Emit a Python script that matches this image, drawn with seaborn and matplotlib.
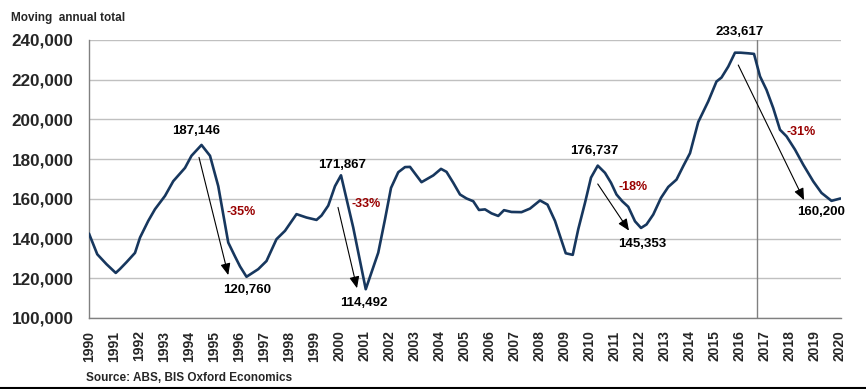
import matplotlib
matplotlib.use("Agg")
import matplotlib.pyplot as plt
from matplotlib.lines import Line2D
import seaborn as sns
import pandas as pd

# ---- data ----
years = [1990.0, 1990.33, 1990.7, 1991.07, 1991.24, 1991.5, 1991.84, 1992.04, 1992.37, 1992.64,
         1993.04, 1993.37, 1993.84, 1994.1, 1994.5, 1994.84, 1995.17, 1995.57, 1995.84, 1996.04,
         1996.3, 1996.77, 1997.1, 1997.5, 1997.84, 1998.3, 1998.7, 1999.1, 1999.3, 1999.57,
         1999.84, 2000.08, 2000.57, 2001.07, 2001.57, 2001.84, 2002.08, 2002.37, 2002.64, 2002.84,
         2003.3, 2003.77, 2004.08, 2004.3, 2004.57, 2004.84, 2005.1, 2005.37, 2005.6, 2005.84,
         2006.1, 2006.37, 2006.6, 2006.9, 2007.3, 2007.64, 2008.04, 2008.34, 2008.64, 2008.84,
         2009.07, 2009.35, 2009.57, 2009.84, 2010.08, 2010.35, 2010.64, 2010.88, 2011.1, 2011.33,
         2011.57, 2011.84, 2012.08, 2012.3, 2012.57, 2012.88, 2013.17, 2013.5, 2013.77, 2014.04,
         2014.37, 2014.77, 2015.1, 2015.3, 2015.57, 2015.84, 2016.07, 2016.37, 2016.6, 2016.84,
         2017.1, 2017.37, 2017.64, 2017.9, 2018.24, 2018.57, 2018.97, 2019.3, 2019.7, 2020.06]
totals = [142500, 132100, 127100, 122700, 124700, 128100, 132800, 140500, 148900, 154800,
          161500, 168900, 175600, 181700, 187146, 181700, 166400, 138000, 131000, 126000,
          120760, 124600, 128700, 139700, 143900, 152300, 150600, 149400, 151600, 156600,
          166400, 171867, 145500, 114492, 132900, 149700, 165500, 173400, 176000, 176100,
          168400, 171800, 175100, 173600, 168100, 162200, 160200, 158800, 154400, 154700,
          152700, 151400, 154300, 153400, 153300, 155100, 159200, 157100, 148900, 141300,
          132600, 131800, 144700, 158000, 170700, 176737, 173100, 168100, 162200, 158800,
          156000, 148700, 145353, 147100, 152100, 160500, 166000, 169700, 176500, 183000,
          198700, 209100, 219100, 221100, 226600, 233617, 233600, 233300, 233000, 221700,
          214900, 205700, 194800, 191500, 184800, 177200, 168800, 163000, 159000, 160200]

tick_years = list(range(1990, 2021))
y_ticks = [100000, 120000, 140000, 160000, 180000, 200000, 220000, 240000]

value_labels = ["187,146", "120,760", "171,867", "114,492", "176,737", "145,353", "233,617", "160,200"]
value_label_pos = [(1994.27, 194200), (1996.33, 114100), (2000.12, 177050), (2000.98, 107550),
                   (2010.2, 184100), (2012.14, 137300), (2016.01, 243900), (2019.29, 153500)]
pct_labels = ["-35%", "-33%", "-18%", "-31%"]
pct_label_pos = [(1996.1, 153400), (2001.1, 157400), (2011.77, 166100), (2018.5, 193700)]
arrow_starts = [(1994.4, 180900), (1999.96, 155700), (2010.35, 167500), (2015.97, 227400)]
arrow_ends = [(1995.57, 121600), (2000.72, 115000), (2011.6, 144000), (2018.6, 159400)]
marker_year = 2016.72

df = pd.DataFrame({"year": years, "total": totals})

# ---- styling ----
sns.set_style("white")
plt.rcParams["font.family"] = ["Liberation Sans", "DejaVu Sans"]
plt.rcParams["font.weight"] = "bold"

fig = plt.figure(figsize=(8.66, 3.89), dpi=100)
ax = fig.add_axes([89 / 866, 1 - 318 / 389, (841 - 89) / 866, (318 - 40) / 389])

ax.set_ylim(100000, 240000)
ax.set_xlim(1990, 2020.08)
ax.set_yticks(y_ticks)
ax.yaxis.grid(True, color="#C0C0C0", linewidth=1.0)
ax.xaxis.grid(False)
ax.set_axisbelow(True)

sns.lineplot(data=df, x="year", y="total", ax=ax, color="#17375E", linewidth=1.9,
             estimator=None, sort=False, zorder=3)

ax.axvline(marker_year, color="#808080", linewidth=1.0, zorder=2)

ax.set_xticks(tick_years)
ax.set_xticklabels([str(y) for y in tick_years], rotation=90, fontsize=10, fontweight="bold")
ax.set_yticklabels([f"{v:,}" for v in y_ticks], fontsize=12.3, fontweight="bold")
ax.tick_params(axis="x", direction="out", length=4, width=1, color="#808080", pad=5)
ax.tick_params(axis="y", direction="out", length=4, width=1, color="#808080", pad=7)
ax.set_xlabel("")
ax.set_ylabel("")

for side in ["top", "right"]:
    ax.spines[side].set_visible(False)
for side in ["left", "bottom"]:
    ax.spines[side].set_color("#808080")
    ax.spines[side].set_linewidth(1.0)

for txt, (x, y) in zip(value_labels, value_label_pos):
    ax.text(x, y, txt, ha="center", va="center", fontsize=9.5, fontweight="bold",
            color="black", zorder=5)
for txt, (x, y) in zip(pct_labels, pct_label_pos):
    ax.text(x, y, txt, ha="center", va="center", fontsize=9, fontweight="bold",
            color="#990000", zorder=5)
for (x0, y0), (x1, y1) in zip(arrow_starts, arrow_ends):
    ax.annotate("", xy=(x1, y1), xytext=(x0, y0),
                arrowprops=dict(arrowstyle="-|>,head_length=0.7,head_width=0.3",
                                color="black", linewidth=0.8, shrinkA=0, shrinkB=0),
                zorder=4)

fig.text(11 / 866, 1 - 18 / 389, "Moving  annual total", ha="left", va="center",
         fontsize=8.5, fontweight="bold")
fig.text(86 / 866, 1 - 378 / 389, "Source: ABS, BIS Oxford Economics", ha="left", va="center",
         fontsize=8.5, fontweight="bold")
fig.add_artist(Line2D([0, 1], [1.2 / 389, 1.2 / 389], color="black", linewidth=1.5,
                      transform=fig.transFigure))

fig.savefig("out.png", dpi=100, facecolor="white")
